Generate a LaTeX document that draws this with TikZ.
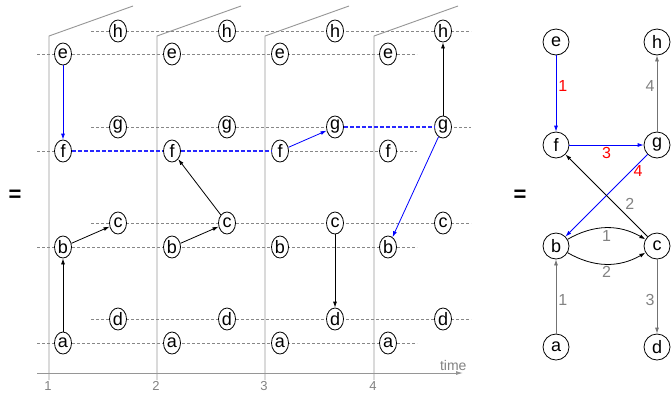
\documentclass[tikz,border=0pt]{standalone}
\usepackage{fontspec}
\setmainfont{Liberation Sans}
\usetikzlibrary{shapes.geometric,arrows.meta}
\definecolor{gridgray}{RGB}{135,135,135}
\definecolor{axisgray}{RGB}{150,150,150}
\definecolor{labelgray}{RGB}{130,130,130}
\definecolor{edgegray}{RGB}{115,115,115}
\definecolor{waitblue}{RGB}{40,40,255}
\tikzset{
  slot/.style={draw, ellipse, fill=white, inner sep=0pt, minimum width=17pt, minimum height=22pt, line width=0.8pt, font=\fontsize{18}{18}\selectfont},
  vtx/.style={draw, circle, fill=white, inner sep=0pt, minimum size=26pt, line width=0.8pt, font=\fontsize{18}{18}\selectfont},
  rowline/.style={gridgray, line width=0.8pt, dash pattern=on 3pt off 2pt},
  bluerow/.style={draw=waitblue, line width=1.2pt, dash pattern=on 4pt off 2pt},
  tip/.style={line width=0.8pt, -{Latex[length=6pt,width=4pt]}},
  lbl/.style={font=\fontsize{16}{16}\selectfont, inner sep=2pt}
}
\begin{document}
\begin{tikzpicture}[x=1pt, y=-1pt]
    \useasboundingbox (0,0) rectangle (671,392);
    % Time slices
    \foreach \i/\x in {1/49,2/157,3/265,4/374} {
        \draw[axisgray, line width=0.9pt] (\x,380) -- (\x,36) -- (\x+84,6);
        \node[labelgray, font=\fontsize{13}{13}\selectfont, anchor=north, inner sep=0pt] (tick\i) at (\x-1,381) {\i};
    }
    % Rows
    \foreach \y in {54,247,343} {
        \draw[rowline] (37,\y) -- (417,\y);
    }
    \foreach \y in {31,223,319} {
        \draw[rowline] (91,\y) -- (471,\y);
    }
    \draw[rowline] (37,151) -- (55,151);
    \draw[rowline] (280,151) -- (417,151);
    \draw[rowline] (91,127) -- (336,127);
    \draw[rowline] (444,127) -- (471,127);
    % Time axis
    \coordinate (axis0) at (37,373);
    \coordinate (axis1) at (463,373);
    \draw[axisgray, line width=0.9pt, -{Latex[length=7pt,width=4pt]}] (axis0) -- (axis1);
    \node[labelgray, font=\fontsize{14}{14}\selectfont, anchor=east] (time) at (470,365) {time};

    % Snapshots
    \foreach \i/\x in {1/63,2/172,3/280,4/388} {
        \node[slot] (e\i) at (\x,54) {e};
        \node[slot] (f\i) at (\x,151) {f};
        \node[slot] (b\i) at (\x,247) {b};
        \node[slot] (a\i) at (\x,343) {a};
        \node[slot] (h\i) at (\x+55,31) {h};
        \node[slot] (g\i) at (\x+55,127) {g};
        \node[slot] (c\i) at (\x+55,223) {c};
        \node[slot] (d\i) at (\x+55,319) {d};
    }

    % Waiting
    \draw[bluerow] (f1) -- (f2);
    \draw[bluerow] (f2) -- (f3);
    \draw[bluerow] (g3) -- (g4);

    % Contacts
    \draw[blue, tip] (e1) -- (f1);
    \draw[tip] (a1) -- (b1);
    \draw[tip] (b1) -- (c1);
    \draw[tip] (b2) -- (c2);
    \draw[tip] (c2) -- (f2);
    \draw[blue, tip] (f3) -- (g3);
    \draw[tip] (c3) -- (d3);
    \draw[tip] (g4) -- (h4);
    \draw[blue, tip] (g4) -- (b4);

    \node[font=\fontsize{22}{22}\selectfont\bfseries] (eqL) at (15,196) {=};
    \node[font=\fontsize{22}{22}\selectfont\bfseries] (eqR) at (520,196) {=};

    % Aggregated graph
    \node[vtx] (E) at (556,42) {e};
    \node[vtx] (H) at (657,42) {h};
    \node[vtx] (F) at (556,145) {f};
    \node[vtx] (G) at (657,145) {g};
    \node[vtx] (B) at (556,246) {b};
    \node[vtx] (C) at (657,246) {c};
    \node[vtx] (A) at (556,347) {a};
    \node[vtx] (D) at (657,347) {d};

    \draw[blue, tip] (E) -- node[pos=0.4, right, red, lbl] {1} (F);
    \draw[blue, tip] (F) -- node[pos=0.5, below, red, lbl] {3} (G);
    \draw[edgegray, tip] (G) -- node[pos=0.6, left, labelgray, lbl] {4} (H);
    \draw[blue, tip] (G) -- node[pos=0.2, right, red, lbl] {4} (B);
    \draw[tip] (C) -- node[pos=0.3, above right, labelgray, lbl] {2} (F);
    \draw[tip] (B) to[bend left=30] node[midway, below, labelgray, lbl] {1} (C);
    \draw[tip] (B) to[bend right=30] node[midway, below, labelgray, lbl] {2} (C);
    \draw[edgegray, tip] (A) -- node[pos=0.45, right, labelgray, lbl] {1} (B);
    \draw[edgegray, tip] (C) -- node[pos=0.55, left, labelgray, lbl] {3} (D);
\end{tikzpicture}
\end{document}
